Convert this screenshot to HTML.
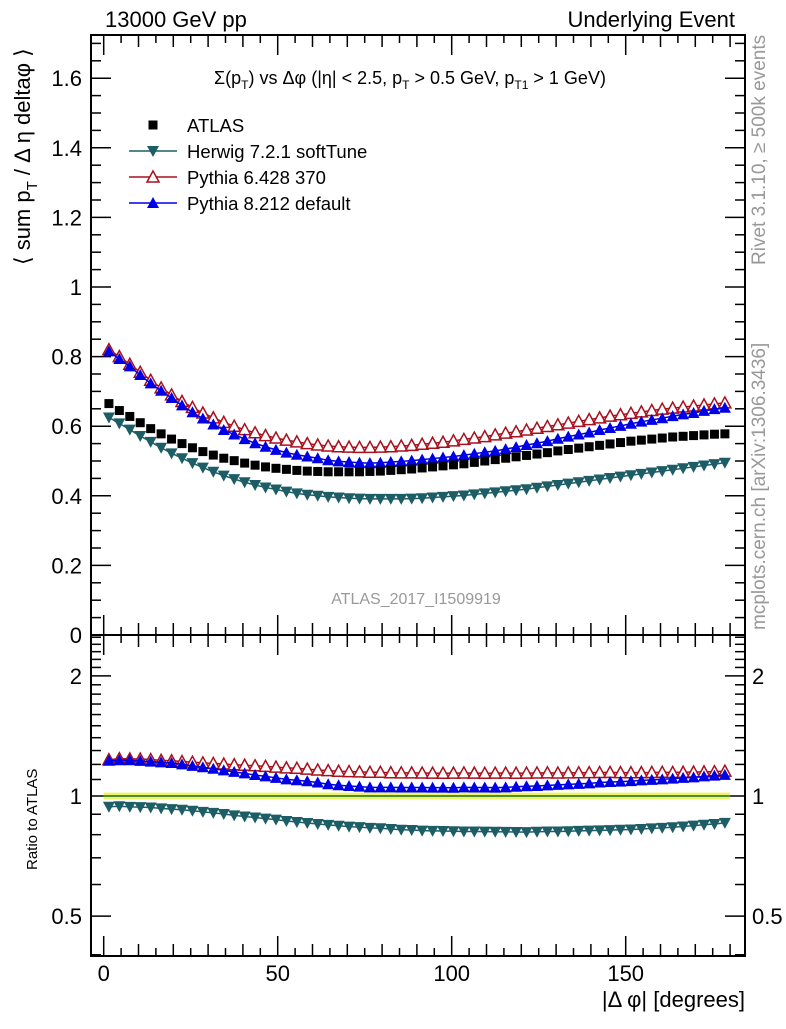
<!DOCTYPE html>
<html><head><meta charset="utf-8"><style>
body{margin:0;background:#fff}
svg text{font-family:"Liberation Sans",sans-serif}
</style></head><body>
<svg id="c" width="786" height="1024" viewBox="0 0 786 1024">
<g id="axes"></g>
<g id="marks"></g>
<text x="105" y="27" font-size="22">13000 GeV pp</text>
<text x="735" y="27" font-size="22" text-anchor="end">Underlying Event</text>
<text x="410" y="84" font-size="18" text-anchor="middle">Σ(p<tspan font-size="12" dy="5">T</tspan><tspan dy="-5">) vs Δφ (|η| &lt; 2.5, p</tspan><tspan font-size="12" dy="5">T</tspan><tspan dy="-5"> &gt; 0.5 GeV, p</tspan><tspan font-size="12" dy="5">T1</tspan><tspan dy="-5"> &gt; 1 GeV)</tspan></text>
<text x="416" y="604" font-size="16" fill="#999" text-anchor="middle">ATLAS_2017_I1509919</text>
<text transform="translate(765,265) rotate(-90)" font-size="19" fill="#999">Rivet 3.1.10, ≥ 500k events</text>
<text transform="translate(765,630) rotate(-90)" font-size="19" fill="#999">mcplots.cern.ch [arXiv:1306.3436]</text>
<text transform="translate(30,265) rotate(-90)" font-size="22">⟨ sum p<tspan font-size="15" dy="7">T</tspan><tspan dy="-7"> / Δ η deltaφ ⟩</tspan></text>
<text transform="translate(37,870) rotate(-90)" font-size="15">Ratio to ATLAS</text>
<text x="745" y="1007" font-size="22" text-anchor="end">|Δ φ| [degrees]</text>
<g id="legend"></g>
</svg>
<script>
const xCenters = [];
for (let i = 0; i < 60; i++) xCenters.push(1.5 + 3 * i);
const atlas = [0.665,0.645,0.628,0.610,0.593,0.578,0.563,0.550,0.538,0.527,0.517,0.508,0.501,0.494,0.488,0.483,0.479,0.476,0.473,0.471,0.470,0.469,0.469,0.469,0.469,0.470,0.471,0.473,0.475,0.477,0.480,0.483,0.486,0.489,0.492,0.496,0.500,0.504,0.508,0.512,0.516,0.520,0.524,0.529,0.533,0.537,0.541,0.545,0.549,0.553,0.557,0.560,0.563,0.566,0.569,0.571,0.573,0.575,0.577,0.578];
const herwig = [0.625,0.608,0.590,0.572,0.555,0.538,0.522,0.508,0.494,0.481,0.469,0.458,0.448,0.439,0.431,0.424,0.418,0.412,0.407,0.403,0.400,0.397,0.395,0.393,0.392,0.391,0.391,0.391,0.391,0.392,0.393,0.395,0.397,0.399,0.401,0.404,0.407,0.410,0.413,0.416,0.419,0.423,0.427,0.431,0.435,0.439,0.443,0.447,0.451,0.455,0.459,0.463,0.467,0.471,0.475,0.479,0.483,0.487,0.491,0.495];
const pythia6 = [0.820,0.800,0.778,0.755,0.732,0.710,0.690,0.671,0.654,0.638,0.624,0.611,0.600,0.590,0.581,0.573,0.566,0.560,0.555,0.550,0.546,0.543,0.541,0.540,0.539,0.539,0.540,0.541,0.543,0.545,0.548,0.551,0.554,0.558,0.562,0.566,0.570,0.575,0.580,0.584,0.589,0.594,0.599,0.604,0.609,0.614,0.619,0.624,0.629,0.633,0.637,0.641,0.645,0.649,0.652,0.655,0.658,0.661,0.664,0.667];
const pythia8 = [0.815,0.793,0.772,0.747,0.723,0.702,0.681,0.660,0.640,0.622,0.605,0.589,0.576,0.563,0.551,0.541,0.532,0.524,0.518,0.513,0.508,0.502,0.499,0.497,0.495,0.494,0.495,0.497,0.499,0.501,0.504,0.507,0.510,0.513,0.517,0.521,0.525,0.529,0.534,0.540,0.546,0.551,0.557,0.564,0.570,0.576,0.582,0.589,0.595,0.601,0.607,0.613,0.618,0.623,0.629,0.634,0.638,0.644,0.649,0.653];
const xTicks = [0,50,100,150];
const yTicks = [0,0.2,0.4,0.6,0.8,1,1.2,1.4,1.6];
const rTicks = [0.5,1,2];

const NS="http://www.w3.org/2000/svg";
const L=91,R=745,T=35,MB=635,RB=956;
const X=v=>103.7+v*3.48;
const Y=v=>635-348*v;
const RY=r=>796-399*Math.log10(r);
const axes=document.getElementById('axes'), marks=document.getElementById('marks');
function el(tag,attrs,parent){const e=document.createElementNS(NS,tag);for(const k in attrs)e.setAttribute(k,attrs[k]);parent.appendChild(e);return e;}
function line(x1,y1,x2,y2,p,w){return el('line',{x1,y1,x2,y2,stroke:'#000','stroke-width':w||1.5},p);}

let f1=el('rect',{x:L,y:T,width:R-L,height:MB-T,fill:'none',stroke:'#000','stroke-width':2},axes);


let f2=el('rect',{x:L,y:MB,width:R-L,height:RB-MB,fill:'none',stroke:'#000','stroke-width':2},axes);



for(let v=0;v<=180;v+=5){
  const x=X(v);const len=v%50===0?20:(v%10===0?12:8);
  [MB,RB].forEach(b=>{line(x,b,x,b-len,axes);});
  [T,MB].forEach(t=>{line(x,t,x,t+len,axes);});
}
xTicks.forEach(v=>{
  const t=el('text',{x:X(v),y:981,'font-size':22,'text-anchor':'middle'},axes);t.textContent=v;
  
  
});
for(let i=0;i<=34;i++){
  const v=i*0.05;const y=Y(v);if(y<T)continue;
  const len=i%4===0?20:10;
  line(L,y,L+len,y,axes);line(R,y,R-len,y,axes);
}
yTicks.forEach(v=>{
  const t=el('text',{x:82,y:Y(v)+8,'font-size':22,'text-anchor':'end'},axes);t.textContent=v;
  
  
});
for(let r=0.4;r<=2.55;r+=0.1){
  const rr=Math.round(r*10)/10;const y=RY(rr);if(y<MB||y>RB)continue;
  const len=(rr===0.5||rr===1||rr===2)?20:10;
  line(L,y,L+len,y,axes);line(R,y,R-len,y,axes);
}
rTicks.forEach(v=>{
  const t=el('text',{x:82,y:RY(v)+8,'font-size':22,'text-anchor':'end'},axes);t.textContent=v;
  
  
  const t2=el('text',{x:752,y:RY(v)+8,'font-size':22},axes);t2.textContent=v;
  
  
});
let band=el('rect',{x:X(0),y:RY(1.02),width:X(180)-X(0),height:RY(0.98)-RY(1.02),fill:'#eef56a'},marks);


let one=el('line',{x1:X(0),x2:X(180),y1:RY(1),y2:RY(1),stroke:'#1a6b1a','stroke-width':1.5},marks);



function marker(type,x,y,color,p){
  if(type==='sq') return el('rect',{x:x-4.5,y:y-4.5,width:9,height:9,fill:color},p);
  if(type==='down') return el('polygon',{points:`${x-6},${y-5} ${x+6},${y-5} ${x},${y+6}`,fill:color},p);
  if(type==='up') return el('polygon',{points:`${x-6},${y+5} ${x+6},${y+5} ${x},${y-6}`,fill:color},p);
  return el('polygon',{points:`${x-6},${y+5} ${x+6},${y+5} ${x},${y-6}`,fill:'#fff',stroke:color,'stroke-width':1.5},p);
}
const series=[
  {name:'herwig',vals:herwig,color:'#1d5e66',type:'down'},
  {name:'pythia6',vals:pythia6,color:'#a8101e',type:'open'},
  {name:'pythia8',vals:pythia8,color:'#0000e6',type:'up'},
];
series.forEach(s=>{
  const g=el('g',{},marks);
  
  
  const n=Math.min(s.vals.length,xCenters.length);
  let pts=[],rpts=[];
  for(let i=0;i<n;i++){pts.push(X(xCenters[i])+','+Y(s.vals[i]));rpts.push(X(xCenters[i])+','+RY(s.vals[i]/atlas[i]));}
  let pl=el('polyline',{points:pts.join(' '),fill:'none',stroke:s.color,'stroke-width':1.5},g);
  
  
  let rl=el('polyline',{points:rpts.join(' '),fill:'none',stroke:s.color,'stroke-width':1.5},g);
  
  
  for(let i=0;i<n;i++){
    const m=marker(s.type,X(xCenters[i]),Y(s.vals[i]),s.color,g);
    
    
    const m2=marker(s.type,X(xCenters[i]),RY(s.vals[i]/atlas[i]),s.color,g);
    
    
  }
});
const ga=el('g',{},marks);


for(let i=0;i<Math.min(atlas.length,xCenters.length);i++){
  const m=marker('sq',X(xCenters[i]),Y(atlas[i]),'#000',ga);
  
  
}
const lg=document.getElementById('legend');
const leg=[['ATLAS','sq','#000',false],['Herwig 7.2.1 softTune','down','#1d5e66',true],['Pythia 6.428 370','open','#a8101e',true],['Pythia 8.212 default','up','#0000e6',true]];
leg.forEach((e,i)=>{
  const y=125+i*26;
  const g=el('g',{},lg);
  
  
  if(e[3]) el('line',{x1:129,x2:177,y1:y,y2:y,stroke:e[2],'stroke-width':1.5},g);
  marker(e[1],153,y,e[2],g);
  const t=el('text',{x:187,y:y+7,'font-size':18.5},g);t.textContent=e[0];
});
</script>
</body></html>
